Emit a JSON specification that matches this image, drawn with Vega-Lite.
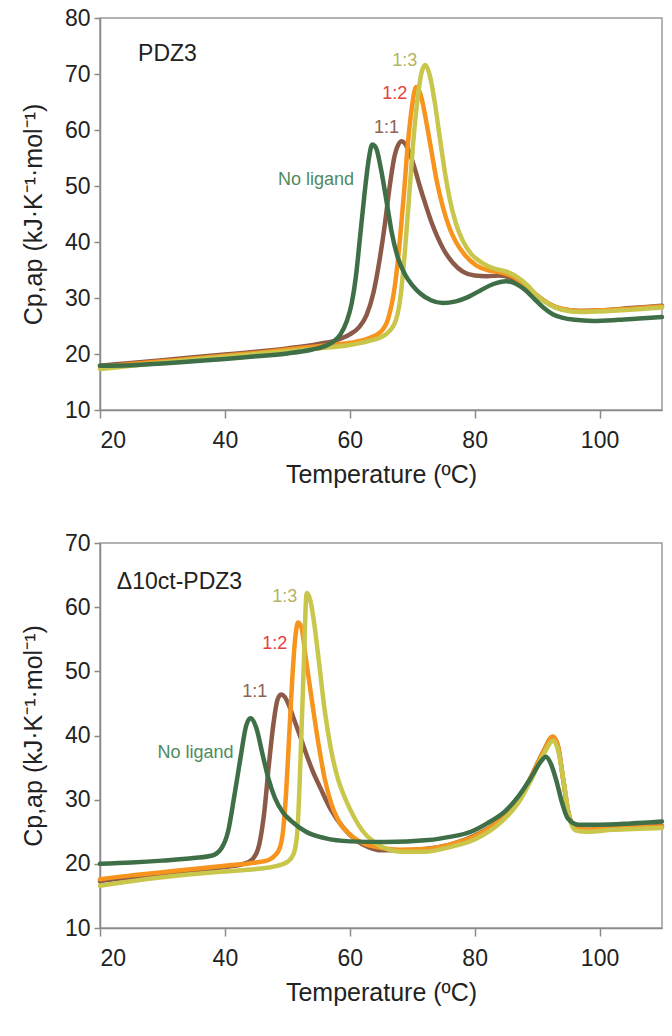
{
  "$schema": "https://vega.github.io/schema/vega-lite/v6.json",
  "background": "white",
  "padding": {"left": 20, "top": 6, "right": 0, "bottom": 5},
  "spacing": 43,
  "config": {
    "font": "Liberation Sans",
    "view": {"stroke": "#9a9a9a", "strokeWidth": 1.5},
    "axis": {
      "grid": false,
      "domainColor": "#8a8a8a",
      "domainWidth": 1.5,
      "tickColor": "#8a8a8a",
      "tickWidth": 1.5,
      "labelFont": "Liberation Sans",
      "labelFontSize": 23,
      "labelColor": "#222222",
      "titleFont": "Liberation Sans",
      "titleFontSize": 25,
      "titleFontWeight": "normal",
      "titleColor": "#222222"
    },
    "axisX": {"tickSize": 8, "labelPadding": 11, "titlePadding": 10},
    "axisY": {"tickSize": 6, "labelPadding": 4, "titlePadding": 18}
  },
  "datasets": {
    "curves": [
      {"panel": "PDZ3", "series": "1:1", "T": 20, "Cp": 17.9},
      {"panel": "PDZ3", "series": "1:1", "T": 25, "Cp": 18.4},
      {"panel": "PDZ3", "series": "1:1", "T": 30, "Cp": 18.9},
      {"panel": "PDZ3", "series": "1:1", "T": 35, "Cp": 19.4},
      {"panel": "PDZ3", "series": "1:1", "T": 40, "Cp": 19.9},
      {"panel": "PDZ3", "series": "1:1", "T": 45, "Cp": 20.4},
      {"panel": "PDZ3", "series": "1:1", "T": 50, "Cp": 21.0},
      {"panel": "PDZ3", "series": "1:1", "T": 55, "Cp": 21.8},
      {"panel": "PDZ3", "series": "1:1", "T": 58, "Cp": 22.5},
      {"panel": "PDZ3", "series": "1:1", "T": 60, "Cp": 23.5},
      {"panel": "PDZ3", "series": "1:1", "T": 61.5, "Cp": 24.8},
      {"panel": "PDZ3", "series": "1:1", "T": 62.7, "Cp": 27},
      {"panel": "PDZ3", "series": "1:1", "T": 63.8, "Cp": 31},
      {"panel": "PDZ3", "series": "1:1", "T": 64.8, "Cp": 37},
      {"panel": "PDZ3", "series": "1:1", "T": 65.6, "Cp": 43},
      {"panel": "PDZ3", "series": "1:1", "T": 66.4, "Cp": 50},
      {"panel": "PDZ3", "series": "1:1", "T": 67.2, "Cp": 55.5},
      {"panel": "PDZ3", "series": "1:1", "T": 68.3, "Cp": 58},
      {"panel": "PDZ3", "series": "1:1", "T": 69.3, "Cp": 56.7},
      {"panel": "PDZ3", "series": "1:1", "T": 70.3, "Cp": 53.5},
      {"panel": "PDZ3", "series": "1:1", "T": 71.2, "Cp": 50},
      {"panel": "PDZ3", "series": "1:1", "T": 72.1, "Cp": 46.8},
      {"panel": "PDZ3", "series": "1:1", "T": 73, "Cp": 43.8},
      {"panel": "PDZ3", "series": "1:1", "T": 74, "Cp": 41},
      {"panel": "PDZ3", "series": "1:1", "T": 75, "Cp": 38.7},
      {"panel": "PDZ3", "series": "1:1", "T": 76.5, "Cp": 36.3},
      {"panel": "PDZ3", "series": "1:1", "T": 78.1, "Cp": 34.7},
      {"panel": "PDZ3", "series": "1:1", "T": 80, "Cp": 34.0},
      {"panel": "PDZ3", "series": "1:1", "T": 82, "Cp": 33.9},
      {"panel": "PDZ3", "series": "1:1", "T": 84, "Cp": 34},
      {"panel": "PDZ3", "series": "1:1", "T": 86, "Cp": 33.5},
      {"panel": "PDZ3", "series": "1:1", "T": 88, "Cp": 32.3},
      {"panel": "PDZ3", "series": "1:1", "T": 90, "Cp": 30.4},
      {"panel": "PDZ3", "series": "1:1", "T": 92, "Cp": 28.9},
      {"panel": "PDZ3", "series": "1:1", "T": 94, "Cp": 28},
      {"panel": "PDZ3", "series": "1:1", "T": 97, "Cp": 27.7},
      {"panel": "PDZ3", "series": "1:1", "T": 100, "Cp": 27.8},
      {"panel": "PDZ3", "series": "1:1", "T": 105, "Cp": 28.2},
      {"panel": "PDZ3", "series": "1:1", "T": 110, "Cp": 28.6},

      {"panel": "PDZ3", "series": "1:2", "T": 20, "Cp": 17.7},
      {"panel": "PDZ3", "series": "1:2", "T": 25, "Cp": 18.2},
      {"panel": "PDZ3", "series": "1:2", "T": 30, "Cp": 18.7},
      {"panel": "PDZ3", "series": "1:2", "T": 35, "Cp": 19.2},
      {"panel": "PDZ3", "series": "1:2", "T": 40, "Cp": 19.7},
      {"panel": "PDZ3", "series": "1:2", "T": 45, "Cp": 20.2},
      {"panel": "PDZ3", "series": "1:2", "T": 50, "Cp": 20.8},
      {"panel": "PDZ3", "series": "1:2", "T": 55, "Cp": 21.4},
      {"panel": "PDZ3", "series": "1:2", "T": 60, "Cp": 22.0},
      {"panel": "PDZ3", "series": "1:2", "T": 63, "Cp": 22.8},
      {"panel": "PDZ3", "series": "1:2", "T": 65, "Cp": 24},
      {"panel": "PDZ3", "series": "1:2", "T": 66.2, "Cp": 26.5},
      {"panel": "PDZ3", "series": "1:2", "T": 67.2, "Cp": 32},
      {"panel": "PDZ3", "series": "1:2", "T": 68, "Cp": 40},
      {"panel": "PDZ3", "series": "1:2", "T": 68.7, "Cp": 49},
      {"panel": "PDZ3", "series": "1:2", "T": 69.3, "Cp": 57.5},
      {"panel": "PDZ3", "series": "1:2", "T": 70, "Cp": 64.5},
      {"panel": "PDZ3", "series": "1:2", "T": 70.6, "Cp": 67.7},
      {"panel": "PDZ3", "series": "1:2", "T": 71.3, "Cp": 66.5},
      {"panel": "PDZ3", "series": "1:2", "T": 72, "Cp": 63},
      {"panel": "PDZ3", "series": "1:2", "T": 72.8, "Cp": 58},
      {"panel": "PDZ3", "series": "1:2", "T": 74, "Cp": 50.5},
      {"panel": "PDZ3", "series": "1:2", "T": 74.9, "Cp": 46.3},
      {"panel": "PDZ3", "series": "1:2", "T": 76, "Cp": 42.4},
      {"panel": "PDZ3", "series": "1:2", "T": 77, "Cp": 40},
      {"panel": "PDZ3", "series": "1:2", "T": 78.5, "Cp": 37.6},
      {"panel": "PDZ3", "series": "1:2", "T": 80.3, "Cp": 35.8},
      {"panel": "PDZ3", "series": "1:2", "T": 82, "Cp": 35},
      {"panel": "PDZ3", "series": "1:2", "T": 84, "Cp": 34.6},
      {"panel": "PDZ3", "series": "1:2", "T": 86, "Cp": 33.9},
      {"panel": "PDZ3", "series": "1:2", "T": 88, "Cp": 32.4},
      {"panel": "PDZ3", "series": "1:2", "T": 90, "Cp": 30.5},
      {"panel": "PDZ3", "series": "1:2", "T": 92, "Cp": 28.9},
      {"panel": "PDZ3", "series": "1:2", "T": 94, "Cp": 28.1},
      {"panel": "PDZ3", "series": "1:2", "T": 97, "Cp": 27.7},
      {"panel": "PDZ3", "series": "1:2", "T": 100, "Cp": 27.8},
      {"panel": "PDZ3", "series": "1:2", "T": 105, "Cp": 28.1},
      {"panel": "PDZ3", "series": "1:2", "T": 110, "Cp": 28.5},

      {"panel": "PDZ3", "series": "1:3", "T": 20, "Cp": 17.3},
      {"panel": "PDZ3", "series": "1:3", "T": 25, "Cp": 17.9},
      {"panel": "PDZ3", "series": "1:3", "T": 30, "Cp": 18.5},
      {"panel": "PDZ3", "series": "1:3", "T": 35, "Cp": 19.0},
      {"panel": "PDZ3", "series": "1:3", "T": 40, "Cp": 19.5},
      {"panel": "PDZ3", "series": "1:3", "T": 45, "Cp": 20.0},
      {"panel": "PDZ3", "series": "1:3", "T": 50, "Cp": 20.5},
      {"panel": "PDZ3", "series": "1:3", "T": 55, "Cp": 21.0},
      {"panel": "PDZ3", "series": "1:3", "T": 60, "Cp": 21.6},
      {"panel": "PDZ3", "series": "1:3", "T": 63, "Cp": 22.3},
      {"panel": "PDZ3", "series": "1:3", "T": 65.5, "Cp": 23.3},
      {"panel": "PDZ3", "series": "1:3", "T": 67.2, "Cp": 25.5},
      {"panel": "PDZ3", "series": "1:3", "T": 68.1, "Cp": 30},
      {"panel": "PDZ3", "series": "1:3", "T": 68.8, "Cp": 38},
      {"panel": "PDZ3", "series": "1:3", "T": 69.5, "Cp": 48},
      {"panel": "PDZ3", "series": "1:3", "T": 70.1, "Cp": 57},
      {"panel": "PDZ3", "series": "1:3", "T": 70.8, "Cp": 65},
      {"panel": "PDZ3", "series": "1:3", "T": 71.5, "Cp": 70.3},
      {"panel": "PDZ3", "series": "1:3", "T": 72.1, "Cp": 71.6},
      {"panel": "PDZ3", "series": "1:3", "T": 72.8, "Cp": 69.8},
      {"panel": "PDZ3", "series": "1:3", "T": 73.6, "Cp": 65},
      {"panel": "PDZ3", "series": "1:3", "T": 74.5, "Cp": 58},
      {"panel": "PDZ3", "series": "1:3", "T": 75.3, "Cp": 52},
      {"panel": "PDZ3", "series": "1:3", "T": 76, "Cp": 47.7},
      {"panel": "PDZ3", "series": "1:3", "T": 77, "Cp": 43.3},
      {"panel": "PDZ3", "series": "1:3", "T": 78.1, "Cp": 40.2},
      {"panel": "PDZ3", "series": "1:3", "T": 79.5, "Cp": 37.8},
      {"panel": "PDZ3", "series": "1:3", "T": 81.3, "Cp": 36.2},
      {"panel": "PDZ3", "series": "1:3", "T": 83, "Cp": 35.3},
      {"panel": "PDZ3", "series": "1:3", "T": 85.1, "Cp": 34.7},
      {"panel": "PDZ3", "series": "1:3", "T": 87, "Cp": 33.6},
      {"panel": "PDZ3", "series": "1:3", "T": 88.5, "Cp": 32.2},
      {"panel": "PDZ3", "series": "1:3", "T": 90, "Cp": 30.4},
      {"panel": "PDZ3", "series": "1:3", "T": 92, "Cp": 28.8},
      {"panel": "PDZ3", "series": "1:3", "T": 94, "Cp": 27.9},
      {"panel": "PDZ3", "series": "1:3", "T": 97, "Cp": 27.5},
      {"panel": "PDZ3", "series": "1:3", "T": 100, "Cp": 27.6},
      {"panel": "PDZ3", "series": "1:3", "T": 105, "Cp": 27.9},
      {"panel": "PDZ3", "series": "1:3", "T": 110, "Cp": 28.3},

      {"panel": "PDZ3", "series": "No ligand", "T": 20, "Cp": 17.9},
      {"panel": "PDZ3", "series": "No ligand", "T": 25, "Cp": 18.0},
      {"panel": "PDZ3", "series": "No ligand", "T": 30, "Cp": 18.3},
      {"panel": "PDZ3", "series": "No ligand", "T": 35, "Cp": 18.7},
      {"panel": "PDZ3", "series": "No ligand", "T": 40, "Cp": 19.1},
      {"panel": "PDZ3", "series": "No ligand", "T": 45, "Cp": 19.6},
      {"panel": "PDZ3", "series": "No ligand", "T": 50, "Cp": 20.1},
      {"panel": "PDZ3", "series": "No ligand", "T": 54, "Cp": 20.8},
      {"panel": "PDZ3", "series": "No ligand", "T": 56, "Cp": 21.4},
      {"panel": "PDZ3", "series": "No ligand", "T": 57.5, "Cp": 22.3},
      {"panel": "PDZ3", "series": "No ligand", "T": 58.5, "Cp": 23.5},
      {"panel": "PDZ3", "series": "No ligand", "T": 59.5, "Cp": 25.8},
      {"panel": "PDZ3", "series": "No ligand", "T": 60.3, "Cp": 29},
      {"panel": "PDZ3", "series": "No ligand", "T": 61, "Cp": 34},
      {"panel": "PDZ3", "series": "No ligand", "T": 61.6, "Cp": 40.4},
      {"panel": "PDZ3", "series": "No ligand", "T": 62.4, "Cp": 49},
      {"panel": "PDZ3", "series": "No ligand", "T": 63, "Cp": 54.5},
      {"panel": "PDZ3", "series": "No ligand", "T": 63.6, "Cp": 57.4},
      {"panel": "PDZ3", "series": "No ligand", "T": 64.2, "Cp": 56.8},
      {"panel": "PDZ3", "series": "No ligand", "T": 65, "Cp": 53},
      {"panel": "PDZ3", "series": "No ligand", "T": 66, "Cp": 46.5},
      {"panel": "PDZ3", "series": "No ligand", "T": 66.7, "Cp": 41.8},
      {"panel": "PDZ3", "series": "No ligand", "T": 67.7, "Cp": 37.2},
      {"panel": "PDZ3", "series": "No ligand", "T": 68.8, "Cp": 34.3},
      {"panel": "PDZ3", "series": "No ligand", "T": 70, "Cp": 32.3},
      {"panel": "PDZ3", "series": "No ligand", "T": 71.2, "Cp": 30.9},
      {"panel": "PDZ3", "series": "No ligand", "T": 73, "Cp": 29.6},
      {"panel": "PDZ3", "series": "No ligand", "T": 74.9, "Cp": 29.1},
      {"panel": "PDZ3", "series": "No ligand", "T": 77, "Cp": 29.4},
      {"panel": "PDZ3", "series": "No ligand", "T": 79, "Cp": 30.2},
      {"panel": "PDZ3", "series": "No ligand", "T": 81, "Cp": 31.4},
      {"panel": "PDZ3", "series": "No ligand", "T": 83, "Cp": 32.5},
      {"panel": "PDZ3", "series": "No ligand", "T": 85, "Cp": 33},
      {"panel": "PDZ3", "series": "No ligand", "T": 86.5, "Cp": 32.6},
      {"panel": "PDZ3", "series": "No ligand", "T": 88, "Cp": 31.5},
      {"panel": "PDZ3", "series": "No ligand", "T": 89.5, "Cp": 29.9},
      {"panel": "PDZ3", "series": "No ligand", "T": 91, "Cp": 28.3},
      {"panel": "PDZ3", "series": "No ligand", "T": 92.5, "Cp": 27.1},
      {"panel": "PDZ3", "series": "No ligand", "T": 94, "Cp": 26.5},
      {"panel": "PDZ3", "series": "No ligand", "T": 96, "Cp": 26.1},
      {"panel": "PDZ3", "series": "No ligand", "T": 99, "Cp": 25.9},
      {"panel": "PDZ3", "series": "No ligand", "T": 103, "Cp": 26.1},
      {"panel": "PDZ3", "series": "No ligand", "T": 107, "Cp": 26.4},
      {"panel": "PDZ3", "series": "No ligand", "T": 110, "Cp": 26.6},

      {"panel": "D10", "series": "1:1", "T": 20, "Cp": 17.3},
      {"panel": "D10", "series": "1:1", "T": 25, "Cp": 17.9},
      {"panel": "D10", "series": "1:1", "T": 30, "Cp": 18.4},
      {"panel": "D10", "series": "1:1", "T": 35, "Cp": 18.9},
      {"panel": "D10", "series": "1:1", "T": 40, "Cp": 19.5},
      {"panel": "D10", "series": "1:1", "T": 43, "Cp": 20.0},
      {"panel": "D10", "series": "1:1", "T": 44.5, "Cp": 20.8},
      {"panel": "D10", "series": "1:1", "T": 45.5, "Cp": 23},
      {"panel": "D10", "series": "1:1", "T": 46.3, "Cp": 28},
      {"panel": "D10", "series": "1:1", "T": 47, "Cp": 35},
      {"panel": "D10", "series": "1:1", "T": 47.8, "Cp": 42},
      {"panel": "D10", "series": "1:1", "T": 48.4, "Cp": 45.5},
      {"panel": "D10", "series": "1:1", "T": 49, "Cp": 46.4},
      {"panel": "D10", "series": "1:1", "T": 49.6, "Cp": 46},
      {"panel": "D10", "series": "1:1", "T": 50.3, "Cp": 44.6},
      {"panel": "D10", "series": "1:1", "T": 51, "Cp": 42.7},
      {"panel": "D10", "series": "1:1", "T": 52, "Cp": 40},
      {"panel": "D10", "series": "1:1", "T": 53, "Cp": 37.2},
      {"panel": "D10", "series": "1:1", "T": 54, "Cp": 34.6},
      {"panel": "D10", "series": "1:1", "T": 55.4, "Cp": 31.6},
      {"panel": "D10", "series": "1:1", "T": 57, "Cp": 28.4},
      {"panel": "D10", "series": "1:1", "T": 58.9, "Cp": 25.7},
      {"panel": "D10", "series": "1:1", "T": 61, "Cp": 23.7},
      {"panel": "D10", "series": "1:1", "T": 63, "Cp": 22.6},
      {"panel": "D10", "series": "1:1", "T": 65, "Cp": 22.1},
      {"panel": "D10", "series": "1:1", "T": 68, "Cp": 22.1},
      {"panel": "D10", "series": "1:1", "T": 72, "Cp": 22.3},
      {"panel": "D10", "series": "1:1", "T": 76, "Cp": 23},
      {"panel": "D10", "series": "1:1", "T": 80, "Cp": 24.4},
      {"panel": "D10", "series": "1:1", "T": 84, "Cp": 26.8},
      {"panel": "D10", "series": "1:1", "T": 87, "Cp": 30},
      {"panel": "D10", "series": "1:1", "T": 89, "Cp": 33.5},
      {"panel": "D10", "series": "1:1", "T": 91, "Cp": 37.5},
      {"panel": "D10", "series": "1:1", "T": 92.5, "Cp": 39.8},
      {"panel": "D10", "series": "1:1", "T": 93.3, "Cp": 38.5},
      {"panel": "D10", "series": "1:1", "T": 94.2, "Cp": 33},
      {"panel": "D10", "series": "1:1", "T": 95, "Cp": 28},
      {"panel": "D10", "series": "1:1", "T": 96, "Cp": 25.8},
      {"panel": "D10", "series": "1:1", "T": 98, "Cp": 25.3},
      {"panel": "D10", "series": "1:1", "T": 102, "Cp": 25.5},
      {"panel": "D10", "series": "1:1", "T": 110, "Cp": 25.9},

      {"panel": "D10", "series": "1:2", "T": 20, "Cp": 17.6},
      {"panel": "D10", "series": "1:2", "T": 25, "Cp": 18.2},
      {"panel": "D10", "series": "1:2", "T": 30, "Cp": 18.7},
      {"panel": "D10", "series": "1:2", "T": 35, "Cp": 19.2},
      {"panel": "D10", "series": "1:2", "T": 40, "Cp": 19.7},
      {"panel": "D10", "series": "1:2", "T": 45, "Cp": 20.2},
      {"panel": "D10", "series": "1:2", "T": 47, "Cp": 20.6},
      {"panel": "D10", "series": "1:2", "T": 48, "Cp": 21.3},
      {"panel": "D10", "series": "1:2", "T": 48.8, "Cp": 22.5},
      {"panel": "D10", "series": "1:2", "T": 49.3, "Cp": 25},
      {"panel": "D10", "series": "1:2", "T": 49.8, "Cp": 31},
      {"panel": "D10", "series": "1:2", "T": 50.3, "Cp": 40},
      {"panel": "D10", "series": "1:2", "T": 50.8, "Cp": 49},
      {"panel": "D10", "series": "1:2", "T": 51.3, "Cp": 55.5},
      {"panel": "D10", "series": "1:2", "T": 51.7, "Cp": 57.6},
      {"panel": "D10", "series": "1:2", "T": 52.2, "Cp": 57},
      {"panel": "D10", "series": "1:2", "T": 53, "Cp": 51.8},
      {"panel": "D10", "series": "1:2", "T": 54, "Cp": 45},
      {"panel": "D10", "series": "1:2", "T": 55, "Cp": 38.6},
      {"panel": "D10", "series": "1:2", "T": 56, "Cp": 33.2},
      {"panel": "D10", "series": "1:2", "T": 57, "Cp": 29.5},
      {"panel": "D10", "series": "1:2", "T": 58, "Cp": 27.1},
      {"panel": "D10", "series": "1:2", "T": 60, "Cp": 24.6},
      {"panel": "D10", "series": "1:2", "T": 62, "Cp": 23.3},
      {"panel": "D10", "series": "1:2", "T": 65, "Cp": 22.5},
      {"panel": "D10", "series": "1:2", "T": 68, "Cp": 22.2},
      {"panel": "D10", "series": "1:2", "T": 72, "Cp": 22.3},
      {"panel": "D10", "series": "1:2", "T": 76, "Cp": 23},
      {"panel": "D10", "series": "1:2", "T": 80, "Cp": 24.3},
      {"panel": "D10", "series": "1:2", "T": 84, "Cp": 26.8},
      {"panel": "D10", "series": "1:2", "T": 87, "Cp": 30},
      {"panel": "D10", "series": "1:2", "T": 89, "Cp": 33.5},
      {"panel": "D10", "series": "1:2", "T": 91, "Cp": 37.5},
      {"panel": "D10", "series": "1:2", "T": 92.5, "Cp": 39.8},
      {"panel": "D10", "series": "1:2", "T": 93.3, "Cp": 38.5},
      {"panel": "D10", "series": "1:2", "T": 94.2, "Cp": 33},
      {"panel": "D10", "series": "1:2", "T": 95, "Cp": 28},
      {"panel": "D10", "series": "1:2", "T": 96, "Cp": 25.8},
      {"panel": "D10", "series": "1:2", "T": 98, "Cp": 25.3},
      {"panel": "D10", "series": "1:2", "T": 102, "Cp": 25.5},
      {"panel": "D10", "series": "1:2", "T": 110, "Cp": 25.8},

      {"panel": "D10", "series": "1:3", "T": 20, "Cp": 16.6},
      {"panel": "D10", "series": "1:3", "T": 25, "Cp": 17.3},
      {"panel": "D10", "series": "1:3", "T": 30, "Cp": 17.9},
      {"panel": "D10", "series": "1:3", "T": 35, "Cp": 18.4},
      {"panel": "D10", "series": "1:3", "T": 40, "Cp": 18.8},
      {"panel": "D10", "series": "1:3", "T": 45, "Cp": 19.2},
      {"panel": "D10", "series": "1:3", "T": 48, "Cp": 19.6},
      {"panel": "D10", "series": "1:3", "T": 50, "Cp": 20.3},
      {"panel": "D10", "series": "1:3", "T": 51, "Cp": 21.5},
      {"panel": "D10", "series": "1:3", "T": 51.6, "Cp": 25},
      {"panel": "D10", "series": "1:3", "T": 52.1, "Cp": 36},
      {"panel": "D10", "series": "1:3", "T": 52.6, "Cp": 50},
      {"panel": "D10", "series": "1:3", "T": 53.1, "Cp": 62.2},
      {"panel": "D10", "series": "1:3", "T": 53.7, "Cp": 61},
      {"panel": "D10", "series": "1:3", "T": 54.3, "Cp": 57.5},
      {"panel": "D10", "series": "1:3", "T": 55, "Cp": 52},
      {"panel": "D10", "series": "1:3", "T": 56, "Cp": 43.8},
      {"panel": "D10", "series": "1:3", "T": 57, "Cp": 37.8},
      {"panel": "D10", "series": "1:3", "T": 58, "Cp": 33.6},
      {"panel": "D10", "series": "1:3", "T": 59, "Cp": 30.8},
      {"panel": "D10", "series": "1:3", "T": 60, "Cp": 28.6},
      {"panel": "D10", "series": "1:3", "T": 62, "Cp": 25.2},
      {"panel": "D10", "series": "1:3", "T": 64, "Cp": 23.3},
      {"panel": "D10", "series": "1:3", "T": 66, "Cp": 22.3},
      {"panel": "D10", "series": "1:3", "T": 68, "Cp": 21.9},
      {"panel": "D10", "series": "1:3", "T": 72, "Cp": 21.9},
      {"panel": "D10", "series": "1:3", "T": 76, "Cp": 22.6},
      {"panel": "D10", "series": "1:3", "T": 80, "Cp": 23.8},
      {"panel": "D10", "series": "1:3", "T": 84, "Cp": 26.3},
      {"panel": "D10", "series": "1:3", "T": 87, "Cp": 29.5},
      {"panel": "D10", "series": "1:3", "T": 89, "Cp": 33},
      {"panel": "D10", "series": "1:3", "T": 91, "Cp": 37},
      {"panel": "D10", "series": "1:3", "T": 92.6, "Cp": 39.2},
      {"panel": "D10", "series": "1:3", "T": 93.4, "Cp": 37.5},
      {"panel": "D10", "series": "1:3", "T": 94.3, "Cp": 32.5},
      {"panel": "D10", "series": "1:3", "T": 95.2, "Cp": 27},
      {"panel": "D10", "series": "1:3", "T": 96.2, "Cp": 25.2},
      {"panel": "D10", "series": "1:3", "T": 98, "Cp": 25},
      {"panel": "D10", "series": "1:3", "T": 102, "Cp": 25.3},
      {"panel": "D10", "series": "1:3", "T": 110, "Cp": 25.6},

      {"panel": "D10", "series": "No ligand", "T": 20, "Cp": 20.0},
      {"panel": "D10", "series": "No ligand", "T": 25, "Cp": 20.2},
      {"panel": "D10", "series": "No ligand", "T": 30, "Cp": 20.5},
      {"panel": "D10", "series": "No ligand", "T": 35, "Cp": 20.9},
      {"panel": "D10", "series": "No ligand", "T": 38, "Cp": 21.3},
      {"panel": "D10", "series": "No ligand", "T": 39.5, "Cp": 22.5},
      {"panel": "D10", "series": "No ligand", "T": 40.5, "Cp": 25},
      {"panel": "D10", "series": "No ligand", "T": 41.5, "Cp": 30.5},
      {"panel": "D10", "series": "No ligand", "T": 42.5, "Cp": 36.5},
      {"panel": "D10", "series": "No ligand", "T": 43.4, "Cp": 41.5},
      {"panel": "D10", "series": "No ligand", "T": 44.1, "Cp": 42.7},
      {"panel": "D10", "series": "No ligand", "T": 45, "Cp": 41.3},
      {"panel": "D10", "series": "No ligand", "T": 46, "Cp": 37.2},
      {"panel": "D10", "series": "No ligand", "T": 47, "Cp": 33.2},
      {"panel": "D10", "series": "No ligand", "T": 48, "Cp": 30.3},
      {"panel": "D10", "series": "No ligand", "T": 49.3, "Cp": 28},
      {"panel": "D10", "series": "No ligand", "T": 50.6, "Cp": 26.7},
      {"panel": "D10", "series": "No ligand", "T": 53, "Cp": 25},
      {"panel": "D10", "series": "No ligand", "T": 56, "Cp": 24},
      {"panel": "D10", "series": "No ligand", "T": 60, "Cp": 23.5},
      {"panel": "D10", "series": "No ligand", "T": 65.7, "Cp": 23.4},
      {"panel": "D10", "series": "No ligand", "T": 72.6, "Cp": 23.7},
      {"panel": "D10", "series": "No ligand", "T": 76, "Cp": 24.2},
      {"panel": "D10", "series": "No ligand", "T": 79.4, "Cp": 25},
      {"panel": "D10", "series": "No ligand", "T": 82, "Cp": 26.3},
      {"panel": "D10", "series": "No ligand", "T": 84.9, "Cp": 28.2},
      {"panel": "D10", "series": "No ligand", "T": 87, "Cp": 30.5},
      {"panel": "D10", "series": "No ligand", "T": 89, "Cp": 33.4},
      {"panel": "D10", "series": "No ligand", "T": 90.5, "Cp": 35.8},
      {"panel": "D10", "series": "No ligand", "T": 91.4, "Cp": 36.7},
      {"panel": "D10", "series": "No ligand", "T": 92.2, "Cp": 35.6},
      {"panel": "D10", "series": "No ligand", "T": 93.1, "Cp": 32.9},
      {"panel": "D10", "series": "No ligand", "T": 94, "Cp": 29.5},
      {"panel": "D10", "series": "No ligand", "T": 94.9, "Cp": 27.1},
      {"panel": "D10", "series": "No ligand", "T": 96.6, "Cp": 26.1},
      {"panel": "D10", "series": "No ligand", "T": 100, "Cp": 26.1},
      {"panel": "D10", "series": "No ligand", "T": 105, "Cp": 26.3},
      {"panel": "D10", "series": "No ligand", "T": 110, "Cp": 26.6}
    ],
    "labels": [
      {"panel": "PDZ3", "kind": "series", "label": "No ligand", "T": 54.6, "Cp": 51.1},
      {"panel": "PDZ3", "kind": "series", "label": "1:1", "T": 65.9, "Cp": 60.4},
      {"panel": "PDZ3", "kind": "series", "label": "1:2", "T": 67.2, "Cp": 66.4},
      {"panel": "PDZ3", "kind": "series", "label": "1:3", "T": 68.8, "Cp": 72.3},
      {"panel": "PDZ3", "kind": "name", "label": "PDZ3", "T": 26.1, "Cp": 73.6},
      {"panel": "D10", "kind": "series", "label": "No ligand", "T": 35.3, "Cp": 37.3},
      {"panel": "D10", "kind": "series", "label": "1:1", "T": 44.8, "Cp": 46.8},
      {"panel": "D10", "kind": "series", "label": "1:2", "T": 48.0, "Cp": 54.2},
      {"panel": "D10", "kind": "series", "label": "1:3", "T": 49.6, "Cp": 61.6},
      {"panel": "D10", "kind": "name", "label": "Δ10ct-PDZ3", "T": 22.7, "Cp": 63.9}
    ]
  },
  "vconcat": [
    {
      "width": 562,
      "height": 392,
      "layer": [
        {
          "data": {"name": "curves"},
          "transform": [{"filter": "datum.panel == 'PDZ3'"}],
          "mark": {"type": "line", "strokeWidth": 4.5, "interpolate": "monotone", "strokeCap": "round"},
          "encoding": {
            "x": {"field": "T", "type": "quantitative", "scale": {"domain": [20, 110], "nice": false}, "axis": {"values": [20, 40, 60, 80, 100], "title": "Temperature (ºC)"}},
            "y": {"field": "Cp", "type": "quantitative", "scale": {"domain": [10, 80], "nice": false}, "axis": {"values": [10, 20, 30, 40, 50, 60, 70, 80], "title": "Cp,ap (kJ·K⁻¹·mol⁻¹)"}},
            "color": {"field": "series", "type": "nominal", "scale": {"domain": ["1:1", "1:2", "1:3", "No ligand"], "range": ["#8c5a48", "#f7941e", "#c9c64c", "#3f6f47"]}, "legend": null}
          }
        },
        {
          "data": {"name": "labels"},
          "transform": [{"filter": "datum.panel == 'PDZ3' && datum.kind == 'series'"}],
          "mark": {"type": "text", "fontSize": 18, "align": "center", "baseline": "middle", "font": "Liberation Sans"},
          "encoding": {
            "x": {"field": "T", "type": "quantitative"},
            "y": {"field": "Cp", "type": "quantitative"},
            "text": {"field": "label"},
            "color": {"field": "label", "type": "nominal", "scale": {"domain": ["No ligand", "1:1", "1:2", "1:3"], "range": ["#4f8a60", "#8d6354", "#e6403d", "#b4b462"]}, "legend": null}
          }
        },
        {
          "data": {"name": "labels"},
          "transform": [{"filter": "datum.panel == 'PDZ3' && datum.kind == 'name'"}],
          "mark": {"type": "text", "fontSize": 23, "align": "left", "baseline": "middle", "color": "#222222", "font": "Liberation Sans"},
          "encoding": {
            "x": {"field": "T", "type": "quantitative"},
            "y": {"field": "Cp", "type": "quantitative"},
            "text": {"field": "label"}
          }
        }
      ],
      "resolve": {"scale": {"color": "independent"}}
    },
    {
      "width": 562,
      "height": 385,
      "layer": [
        {
          "data": {"name": "curves"},
          "transform": [{"filter": "datum.panel == 'D10'"}],
          "mark": {"type": "line", "strokeWidth": 4.5, "interpolate": "monotone", "strokeCap": "round"},
          "encoding": {
            "x": {"field": "T", "type": "quantitative", "scale": {"domain": [20, 110], "nice": false}, "axis": {"values": [20, 40, 60, 80, 100], "title": "Temperature (ºC)"}},
            "y": {"field": "Cp", "type": "quantitative", "scale": {"domain": [10, 70], "nice": false}, "axis": {"values": [10, 20, 30, 40, 50, 60, 70], "title": "Cp,ap (kJ·K⁻¹·mol⁻¹)"}},
            "color": {"field": "series", "type": "nominal", "scale": {"domain": ["1:1", "1:2", "1:3", "No ligand"], "range": ["#8c5a48", "#f7941e", "#c9c64c", "#3f6f47"]}, "legend": null}
          }
        },
        {
          "data": {"name": "labels"},
          "transform": [{"filter": "datum.panel == 'D10' && datum.kind == 'series'"}],
          "mark": {"type": "text", "fontSize": 18, "align": "center", "baseline": "middle", "font": "Liberation Sans"},
          "encoding": {
            "x": {"field": "T", "type": "quantitative"},
            "y": {"field": "Cp", "type": "quantitative"},
            "text": {"field": "label"},
            "color": {"field": "label", "type": "nominal", "scale": {"domain": ["No ligand", "1:1", "1:2", "1:3"], "range": ["#4f8a60", "#8d6354", "#e6403d", "#b4b462"]}, "legend": null}
          }
        },
        {
          "data": {"name": "labels"},
          "transform": [{"filter": "datum.panel == 'D10' && datum.kind == 'name'"}],
          "mark": {"type": "text", "fontSize": 23, "align": "left", "baseline": "middle", "color": "#222222", "font": "Liberation Sans"},
          "encoding": {
            "x": {"field": "T", "type": "quantitative"},
            "y": {"field": "Cp", "type": "quantitative"},
            "text": {"field": "label"}
          }
        }
      ],
      "resolve": {"scale": {"color": "independent"}}
    }
  ]
}
